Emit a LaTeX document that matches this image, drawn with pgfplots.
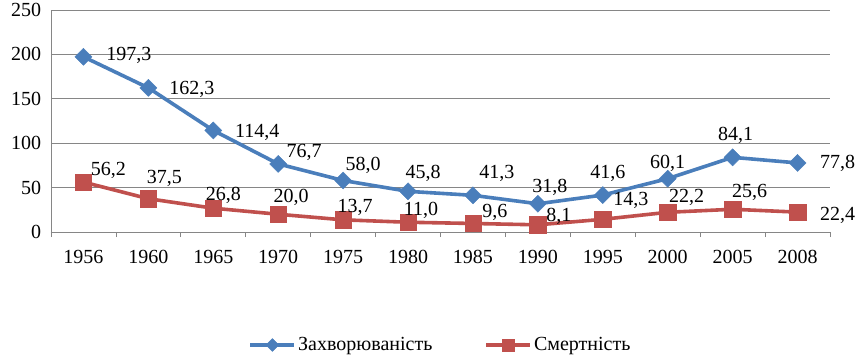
\documentclass[border=0pt]{standalone}
\usepackage{fontspec}
\setmainfont{Liberation Serif}
\usepackage{pgfplots}
\usepackage{pgfplotstable}
\pgfplotsset{compat=1.18}
\definecolor{sblue}{RGB}{74,126,187}
\definecolor{sred}{RGB}{192,80,77}
\definecolor{gridc}{RGB}{134,134,134}

\pgfplotstableread{
x y dx dy lab
0 197.3 45.5 1 197,3
1 162.3 43.6 -2 162,3
2 114.4 44 -1.6 114,4
3 76.7 26 11 76,7
4 58.0 20 15.5 58,0
5 45.8 15 18 45,8
6 41.3 24 22 41,3
7 31.8 12 16 31,8
8 41.6 5 22 41,6
9 60.1 0 15.6 60,1
10 84.1 3 22 84,1
11 77.8 40 0 77,8
}\zakh

\pgfplotstableread{
x y dx dy lab
0 56.2 25 12 56,2
1 37.5 16 20 37,5
2 26.8 10 13 26,8
3 20.0 13 17 20,0
4 13.7 12 12 13,7
5 11.0 13 12 11,0
6 9.6 22 11.5 9,6
7 8.1 21 8 8,1
8 14.3 28 19 14,3
9 22.2 19 15 22,2
10 25.6 17 17 25,6
11 22.4 40 -3 22,4
}\smert

\begin{document}
\begin{tikzpicture}[font=\fontsize{20}{24}\selectfont]
\begin{axis}[
  at={(0,0)}, anchor=south west,
  scale only axis, width=779pt, height=222pt,
  xmin=-0.5, xmax=11.5, ymin=0, ymax=250,
  axis x line*=bottom, axis y line*=left,
  axis line style={gridc, line width=0.8pt},
  clip=false,
  xtick={0,...,11},
  xticklabels={1956,1960,1965,1970,1975,1980,1985,1990,1995,2000,2005,2008},
  major x tick style={draw=none},
  minor xtick={-0.5,0.5,...,11.5},
  minor tick length=5pt,
  minor x tick style={gridc, line width=0.8pt},
  tick align=outside,
  ytick={0,50,...,250},
  major y tick style={draw=none},
  ymajorgrids,
  major grid style={gridc, line width=0.8pt},
  every tick label/.append style={font=\fontsize{20}{24}\selectfont, text=black},
  yticklabel style={xshift=-2pt},
  xticklabel style={yshift=-10pt},
  /pgf/number format/assume math mode=true,
  legend columns=2,
  legend style={at={(0.5,0)}, anchor=center, yshift=-113pt, draw=none, fill=none,
     font=\fontsize{20}{24}\selectfont,
     /tikz/every even column/.append style={column sep=50pt}},
  legend image code/.code={\draw[mark repeat=2,mark phase=2,#1,every mark/.append style={scale=0.75}] plot coordinates {(0pt,0pt)(22pt,0pt)(44pt,0pt)};},
]
\addplot[sblue, line width=3.6pt, mark=square*, mark size=6pt,
  mark options={rotate=45, line width=0.5pt, solid},
  point meta=explicit symbolic,
  nodes near coords,
  visualization depends on={\thisrow{dx}\as\dx},
  visualization depends on={\thisrow{dy}\as\dy},
  every node near coord/.append style={text=black, anchor=center, inner sep=0pt,
     xshift=\dx pt, yshift=\dy pt, font=\fontsize{20}{24}\selectfont}]
  table[x=x, y=y, meta=lab] {\zakh};
\addlegendentry{Захворюваність}
\addplot[sred, line width=3.6pt, mark=square*, mark size=8.2pt,
  mark options={line width=0.5pt, solid},
  point meta=explicit symbolic,
  nodes near coords,
  visualization depends on={\thisrow{dx}\as\dx},
  visualization depends on={\thisrow{dy}\as\dy},
  every node near coord/.append style={text=black, anchor=center, inner sep=0pt,
     xshift=\dx pt, yshift=\dy pt, font=\fontsize{20}{24}\selectfont}]
  table[x=x, y=y, meta=lab] {\smert};
\addlegendentry{Смертність}
\end{axis}
\pgfresetboundingbox
\path (-51pt,-125pt) rectangle (808pt,232pt);
\end{tikzpicture}
\end{document}
